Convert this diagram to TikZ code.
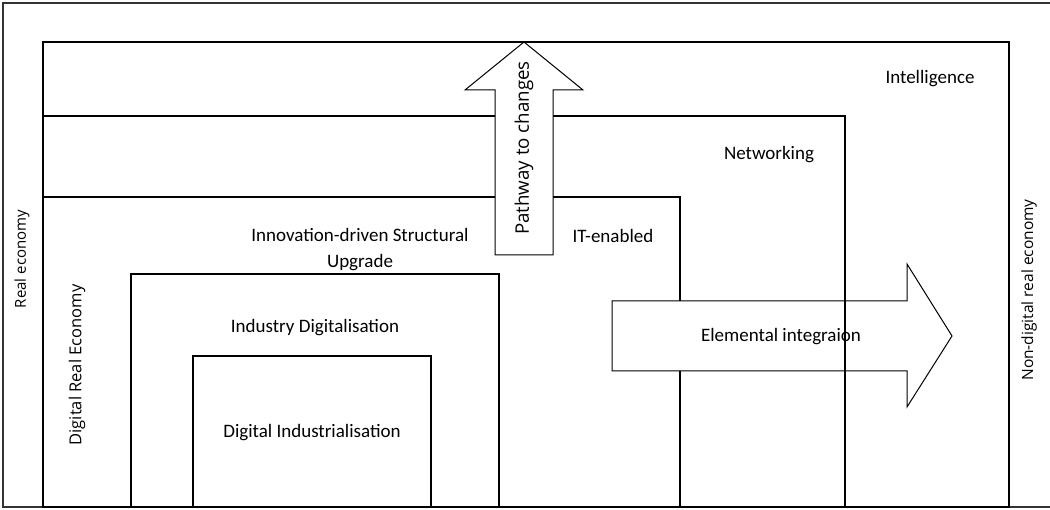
\documentclass[tikz,border=0pt]{standalone}
\usepackage{fontspec}
\setmainfont{Carlito}
\newfontfamily\sidefont{Open Sans}
\usepackage{xcolor}

\begin{document}
\begin{tikzpicture}[x=1pt,y=-1pt,
    layer/.style={line width=1.2pt},
    bigarrow/.style={line width=1pt,fill=white},
    lbl/.style={font=\fontsize{19}{26}\selectfont,align=center},
    side/.style={font=\sidefont\fontsize{15}{18}\selectfont,rotate=90}]
    \tikzstyle{every node}+=[inner sep=0pt]
    \useasboundingbox (0,0) rectangle (1050,510);
    \clip (0,0) rectangle (1050,510);
    \draw [layer,black!80] (3,3) rectangle (1060,507);
    \draw [layer] (43,42) rectangle (1009,507);
    \draw [layer] (43,197) rectangle (680,507);
    \draw [layer] (131,274) rectangle (499,507);
    \draw [layer] (193,356) rectangle (431,507);
    % elemental integration arrow
    \draw [bigarrow] (612,301) -- (907,301) -- (907,264) -- (952,336) -- (907,407) -- (907,371) -- (612,371) -- cycle;
    \draw [layer] (43,116) rectangle (845,507);
    % pathway arrow
    \draw [bigarrow] (495,255) -- (495,90) -- (465,90) -- (524,42) -- (583,90) -- (553,90) -- (553,255) -- cycle;
    \node [lbl] (intel) at (930,79) {Intelligence};
    \node [lbl] (netw) at (769,155) {Networking};
    \node [lbl] (itena) at (613,236) {IT-enabled};
    \node [lbl] (innov) at (360,250) {Innovation-driven Structural\\Upgrade};
    \node [lbl] (inddig) at (315,328) {Industry Digitalisation};
    \node [lbl] (digind) at (312,433) {Digital Industrialisation};
    \node [lbl] (elem) at (781,337) {Elemental integraion};
    \node [side,font=\sidefont\fontsize{18.7}{22}\selectfont] (path) at (524,148) {Pathway to changes};
    \node [side] (realeco) at (22,259) {Real economy};
    \node [side,font=\sidefont\fontsize{16.5}{20}\selectfont] (digreal) at (77,365) {Digital Real Economy};
    \node [side,font=\sidefont\fontsize{15.5}{19}\selectfont] (nondig) at (1029,290) {Non-digital real economy};
\end{tikzpicture}
\end{document}
